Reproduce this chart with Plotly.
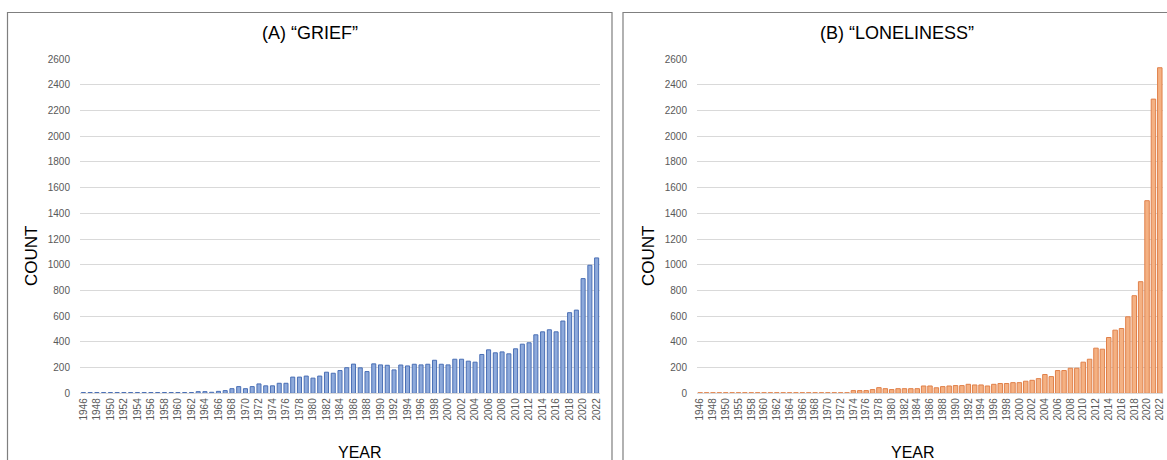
import plotly.graph_objects as go

# ---------------- data ----------------
grief_years = [str(y) for y in range(1946, 2023)]
grief_counts = [
    6, 6, 6, 6, 6, 6, 6, 6, 6, 6,          # 1946-1955
    6, 6, 6, 6, 6, 6, 6, 13, 13, 8,        # 1956-1965
    15, 21, 36, 52, 36, 52, 73, 58, 58, 78,  # 1966-1975
    78, 126, 126, 134, 118, 134, 164, 156, 177, 199,  # 1976-1985
    227, 198, 169, 229, 221, 218, 182, 220, 213, 226,  # 1986-1995
    221, 226, 257, 226, 221, 265, 265, 250, 242, 302,  # 1996-2005
    338, 315, 322, 307, 346, 382, 393, 455, 478, 494,  # 2006-2015
    478, 562, 627, 647, 892, 996, 1053                  # 2016-2022
]

lonely_years = ["1946", "1947", "1948", "1949", "1950", "1952", "1955", "1956"] + \
    [str(y) for y in range(1958, 2023)]
lonely_counts = [
    5, 5, 5, 5, 5, 5, 5, 5,                # 1946-1956 (irregular)
    5, 5, 5, 5, 5, 5, 5, 5, 5, 5,          # 1958-1967
    5, 5, 5, 5, 5, 5, 21, 21, 21, 29,      # 1968-1977
    44, 36, 29, 36, 36, 36, 36, 57, 57, 43,  # 1978-1987
    52, 57, 60, 60, 70, 65, 65, 57, 70, 76,  # 1988-1997
    76, 83, 83, 94, 101, 114, 146, 130, 177, 177,  # 1998-2007
    195, 195, 242, 265, 351, 343, 434, 491, 504, 595,  # 2008-2017
    759, 868, 1498, 2288, 2532                          # 2018-2022
]

y_ticks = list(range(0, 2601, 200))

# ---------------- figure ----------------
W, H = 1167, 460
FONT = "Liberation Sans"
TICKC = "#595959"

fig = go.Figure()
fig.add_trace(go.Bar(
    x=grief_years, y=grief_counts, xaxis="x", yaxis="y",
    marker=dict(color="#8eaadb", line=dict(color="#4a6fb5", width=1)),
    width=0.6, showlegend=False))
fig.add_trace(go.Bar(
    x=lonely_years, y=lonely_counts, xaxis="x2", yaxis="y2",
    marker=dict(color="#f4b183", line=dict(color="#e0804a", width=1)),
    width=0.7, showlegend=False))

ydom = [(H - 393.3) / H, (H - 59) / H]
common_y = dict(range=[0, 2600], tickvals=y_ticks, showgrid=True,
                gridcolor="#d9d9d9", gridwidth=1, zeroline=False, showline=False,
                tickfont=dict(family=FONT, size=10, color=TICKC),
                ticks="outside", ticklen=7, tickcolor="rgba(0,0,0,0)",
                domain=ydom, fixedrange=True, automargin=False)
common_x = dict(type="category", tickangle=-90, showgrid=False,
                showline=True, linecolor="#d9d9d9", linewidth=1,
                tickfont=dict(family=FONT, size=10, color=TICKC),
                ticks="", fixedrange=True, automargin=False)

fig.update_layout(
    template="none",
    width=W, height=H,
    margin=dict(l=0, r=0, t=0, b=0, pad=0, autoexpand=False),
    paper_bgcolor="white", plot_bgcolor="white",
    bargap=0.35,
    xaxis=dict(common_x, domain=[80 / W, 600 / W], anchor="y",
               range=[-0.5, len(grief_years) - 0.5],
               tickvals=grief_years[::2]),
    yaxis=dict(common_y, anchor="x"),
    xaxis2=dict(common_x, domain=[697 / W, 1163 / W], anchor="y2",
                range=[-0.5, len(lonely_years) - 0.5],
                tickvals=lonely_years[::2]),
    yaxis2=dict(common_y, anchor="x2"),
)

# panel borders
fig.add_shape(type="rect", xref="paper", yref="paper",
              x0=7.5 / W, x1=612 / W, y0=-0.1, y1=(H - 12.5) / H,
              line=dict(color="#7f7f7f", width=1.2), layer="above")
fig.add_shape(type="rect", xref="paper", yref="paper",
              x0=623 / W, x1=1.1, y0=-0.1, y1=(H - 12.5) / H,
              line=dict(color="#7f7f7f", width=1.2), layer="above")

def ann(text, x, y, size, angle=0):
    fig.add_annotation(text=text, xref="paper", yref="paper",
                       x=x / W, y=(H - y) / H, showarrow=False,
                       xanchor="center", yanchor="middle", textangle=angle,
                       font=dict(family=FONT, size=size, color="#000000"))

ann("(A) \u201cGRIEF\u201d", 310, 33, 18)
ann("(B) \u201cLONELINESS\u201d", 897, 33, 18)
ann("COUNT", 31, 256, 17, -90)
ann("COUNT", 648, 256, 17, -90)
ann("YEAR", 360, 452, 16)
ann("YEAR", 913, 452, 16)

fig.write_html(
    "out.html",
    config={"displayModeBar": False, "staticPlot": True},
    post_script="document.body.style.margin='0';document.body.style.overflow='hidden';",
)
